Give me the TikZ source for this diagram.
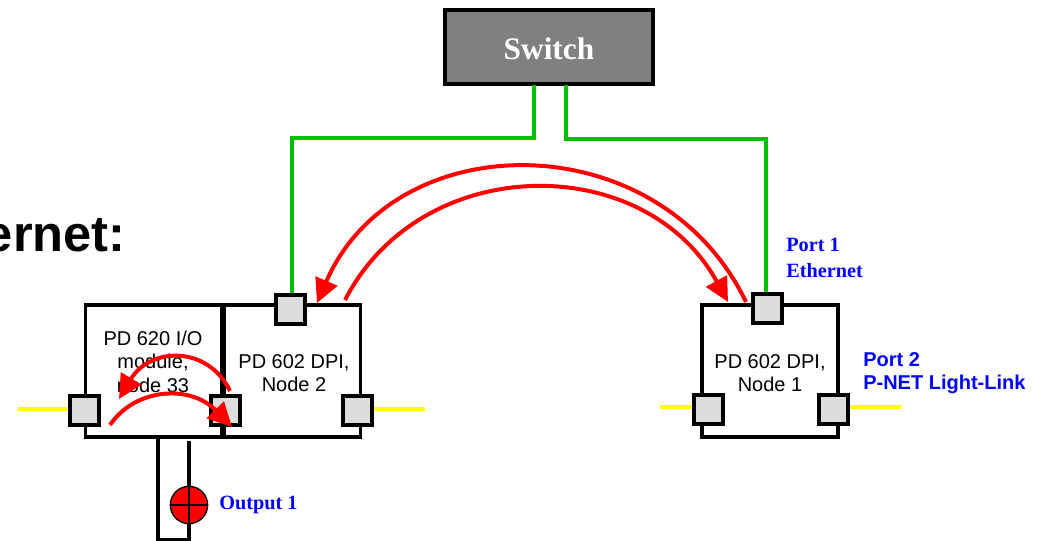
\documentclass[tikz,border=0pt]{standalone}
\usepackage{fontspec}
\setmainfont{Liberation Serif}
\setsansfont{Liberation Sans}
\usetikzlibrary{arrows.meta}

\definecolor{ethgreen}{HTML}{00C000}
\definecolor{linkyellow}{HTML}{FFFF00}
\definecolor{portgray}{HTML}{DDDDDD}
\definecolor{switchgray}{HTML}{808080}

\tikzset{
	devbox/.style={draw=black,fill=white,line width=2.4pt,minimum width=102pt,minimum height=99pt,inner sep=0pt},
	portbox/.style={draw=black,fill=portgray,line width=3pt,minimum size=21.75pt,inner sep=0pt},
	devtext/.style={font=\sffamily\fontsize{15pt}{17.6pt}\selectfont,align=center,inner sep=0pt},
	bluetext/.style={font=\bfseries\fontsize{15.2pt}{18.9pt}\selectfont,text=blue,align=left,inner sep=0pt,anchor=west},
	ethline/.style={ethgreen,line width=3pt},
	linkline/.style={linkyellow,line width=2.4pt},
	flow/.style={red,line width=3pt,-{Triangle[length=18pt,width=17.5pt]}}
}

\begin{document}
\begin{tikzpicture}[x=0.75pt,y=-0.75pt]
	\useasboundingbox (0,0) rectangle (1040,541);

	% heading cut by the page
	\node[font=\sffamily\bfseries\fontsize{38pt}{40pt}\selectfont,anchor=base east,inner sep=0pt] (heading) at (126,252) {ernet:};

	% output loop
	\coordinate (outA) at (158,438);
	\coordinate (outB) at (158,539.5);
	\coordinate (outC) at (189,539.5);
	\coordinate (outD) at (189,441);
	\draw[line width=2.4pt] (outA) -- (outB) -- (outC) -- (outD);

	% devices
	\node[draw=black,fill=switchgray,line width=2.6pt,minimum width=156pt,minimum height=55.5pt,inner sep=0pt] (switch) at (549,47) {};
	\node[text=white,font=\bfseries\fontsize{23.5pt}{26pt}\selectfont,inner sep=0pt] (switchText) at (549,48.5) {Switch};
	\node[devbox] (module) at (153.25,371) {};
	\node[devbox] (dpiB) at (292.5,371) {};
	\node[devbox] (dpiA) at (770,371) {};

	\node[devtext] (moduleText) at (153,361.5) {PD 620 I/O\\module,\\node 33};
	\node[devtext] (dpiBText) at (294,373) {PD 602 DPI,\\Node 2};
	\node[devtext] (dpiAText) at (770,373) {PD 602 DPI,\\Node 1};

	% ports
	\node[portbox] (portBtop) at (290.5,310) {};
	\node[portbox] (portMleft) at (84,410.5) {};
	\node[portbox] (portMright) at (225.5,410.5) {};
	\node[portbox] (portBright) at (357,410.5) {};
	\node[portbox] (portAtop) at (767.5,308.5) {};
	\node[portbox] (portAleft) at (708,409.5) {};
	\node[portbox] (portAright) at (833.5,409.5) {};

	% green lines
	\coordinate (swL) at (534,85);
	\coordinate (swR) at (566,85);
	\coordinate (kneeL) at (292,138);
	\coordinate (kneeR) at (766,139.5);
	\draw[ethline] (swL) |- (kneeL) -- (kneeL |- portBtop.north);
	\draw[ethline] (swR) |- (kneeR) -- (kneeR |- portAtop.north);

	% yellow lines
	\coordinate (endMleft) at (18,409);
	\coordinate (endBright) at (425,409);
	\coordinate (endAleft) at (660,407);
	\coordinate (endAright) at (901,407);
	\draw[linkline] (endMleft) -- (endMleft -| portMleft.west);
	\draw[linkline] (endBright) -- (endBright -| portBright.east);
	\draw[linkline] (endAleft) -- (endAleft -| portAleft.west);
	\draw[linkline] (endAright) -- (endAright -| portAright.east);

	% lamp
	\node[circle,draw=black,fill=red,line width=1pt,minimum size=28pt,inner sep=0pt] (lamp) at (189,505) {};
	\draw[line width=1pt] (lamp.north) -- (lamp.south);
	\draw[line width=1pt] (lamp.west) -- (lamp.east);

	% red arcs
	\coordinate (bigOutS) at (746,302);
	\coordinate (bigOutE) at (317,303);
	\coordinate (bigInS) at (345,300);
	\coordinate (bigInE) at (728,302);
	\coordinate (smallUpS) at (230,391);
	\coordinate (smallUpE) at (119,399);
	\coordinate (smallLowS) at (110,425);
	\coordinate (smallLowE) at (232,427);
	\draw[flow] (bigOutS) .. controls (660,123) and (395,123) .. (bigOutE);
	\draw[flow] (bigInS) .. controls (422,151) and (645,151) .. (bigInE);
	\draw[flow] (smallUpS) .. controls (208,345) and (150,347) .. (smallUpE);
	\draw[flow] (smallLowS) .. controls (135,388) and (190,384) .. (smallLowE);

	% label ports
	\node[bluetext] (portOneText) at (786,258) {Port 1\\Ethernet};
	\node[bluetext,font=\sffamily\bfseries\fontsize{15pt}{17.4pt}\selectfont] (portTwoText) at (863,373) {Port 2\\P-NET Light-Link};
	\node[bluetext] (outputText) at (219,505) {Output 1};

\end{tikzpicture}
\end{document}
